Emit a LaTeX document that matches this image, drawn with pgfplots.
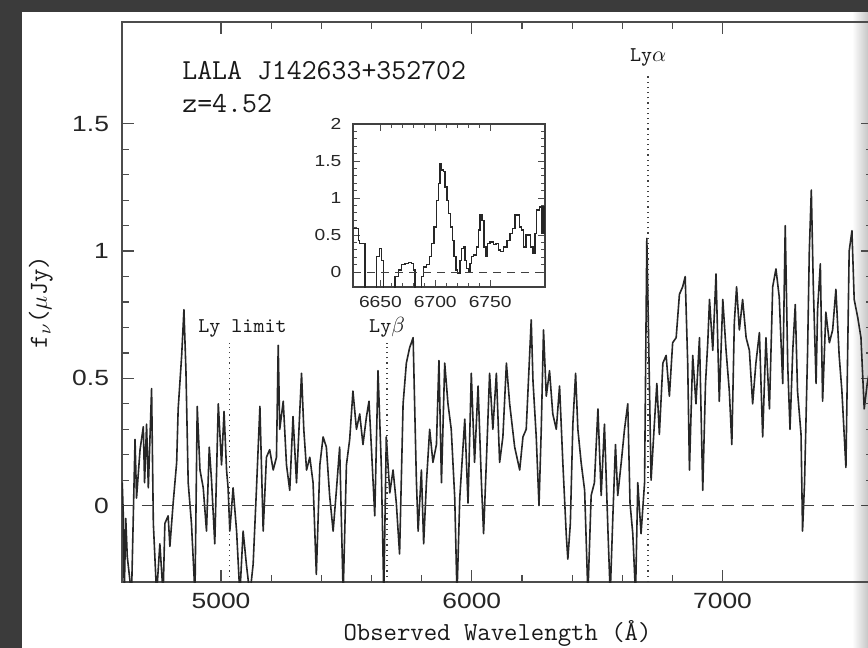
\documentclass[border=0pt]{standalone}
\usepackage{fontspec}
\usepackage{pgfplots}
\usepackage{pgfplotstable}
\pgfplotsset{compat=1.18}
\newfontfamily\tickfont[FakeStretch=1.2]{Liberation Sans}

\pgfplotstableread{
lam flux
4606 0.09
4610 -0.03
4614 -0.35
4620 -0.05
4626 -0.20
4643 -0.35
4657 0.26
4663 0.03
4677 0.22
4690 0.31
4695 0.09
4703 0.32
4710 0.07
4723 0.46
4730 -0.07
4743 -0.35
4756 -0.15
4769 -0.35
4776 -0.07
4789 -0.04
4796 -0.16
4809 0.01
4823 0.17
4829 0.38
4843 0.59
4852 0.77
4860 0.53
4869 0.09
4882 -0.07
4896 -0.35
4905 0.39
4916 0.14
4929 0.07
4942 -0.10
4953 0.23
4962 0.10
4975 -0.15
4989 0.40
5002 0.16
5012 0.37
5022 0.14
5028 0.07
5035 -0.10
5048 0.07
5062 -0.10
5075 -0.35
5088 -0.10
5101 -0.23
5115 -0.35
5128 -0.23
5141 0.06
5155 0.39
5168 -0.10
5181 0.19
5194 0.22
5208 0.14
5221 0.19
5228 0.63
5234 0.30
5248 0.41
5261 0.16
5274 0.06
5287 0.35
5301 0.09
5321 0.52
5330 0.30
5341 0.14
5354 0.19
5367 0.09
5380 -0.27
5394 0.16
5407 0.27
5420 0.23
5433 0.04
5447 -0.10
5460 0.06
5473 0.23
5487 -0.35
5500 0.16
5513 0.26
5526 0.45
5540 0.30
5553 0.36
5566 0.24
5580 0.35
5590 0.41
5599 0.24
5613 -0.04
5626 0.53
5639 0.16
5649 -0.35
5659 0.27
5673 0.05
5686 0.14
5699 0.01
5712 -0.19
5726 0.40
5739 0.56
5752 0.62
5766 0.66
5772 0.40
5779 0.10
5786 -0.10
5799 0.14
5808 -0.15
5819 0.09
5832 0.30
5845 0.17
5859 0.24
5869 0.57
5879 0.09
5892 0.56
5905 0.40
5918 0.30
5932 0.03
5941 -0.35
5952 0.03
5972 0.34
5985 0.01
5998 0.52
6011 0.17
6025 0.47
6038 0.10
6047 -0.11
6058 0.17
6071 0.52
6084 0.30
6098 0.52
6111 0.17
6124 0.27
6138 0.56
6151 0.40
6171 0.23
6191 0.14
6204 0.27
6217 0.30
6231 0.60
6237 0.73
6244 0.49
6257 0.27
6268 0.00
6277 0.30
6286 0.69
6297 0.43
6310 0.53
6323 0.36
6337 0.30
6350 0.47
6363 0.17
6377 -0.12
6383 -0.21
6393 -0.07
6403 0.32
6414 0.52
6423 0.30
6436 0.17
6450 0.06
6463 -0.35
6476 0.04
6489 0.09
6503 0.38
6516 0.04
6529 0.32
6543 -0.10
6552 -0.35
6563 -0.03
6573 0.24
6582 0.04
6596 0.17
6609 0.30
6622 0.40
6631 0.01
6642 -0.11
6653 -0.35
6662 0.09
6675 -0.11
6689 0.09
6698 1.05
6706 0.61
6715 0.10
6728 0.32
6738 0.48
6748 0.28
6762 0.56
6775 0.59
6788 0.43
6801 0.64
6815 0.66
6828 0.83
6841 0.86
6851 0.90
6861 0.56
6868 0.14
6881 0.59
6894 0.40
6908 0.66
6921 0.06
6932 0.48
6941 0.64
6948 0.81
6961 0.61
6974 0.91
6987 0.41
7001 0.81
7014 0.61
7027 0.45
7037 0.24
7047 0.72
7056 0.86
7067 0.69
7080 0.81
7094 0.66
7107 0.61
7120 0.40
7133 0.56
7147 0.68
7160 0.27
7173 0.66
7187 0.38
7200 0.86
7213 0.93
7226 0.82
7240 0.48
7250 1.10
7260 0.55
7269 0.30
7280 0.61
7290 0.79
7299 0.45
7313 0.28
7319 -0.10
7327 0.09
7339 0.60
7346 1.00
7354 1.24
7362 0.86
7373 0.48
7379 0.77
7390 0.95
7399 0.41
7412 0.76
7426 0.64
7439 0.69
7452 0.85
7465 0.59
7476 0.45
7492 0.15
7505 1.00
7516 1.08
7525 0.81
7539 0.74
7552 0.66
7565 0.38
7577 0.48
7600 0.60
}\spectrum

\pgfplotstableread{
lam flux
6625.4 0.59
6629.9 0.43
6630.8 0.39
6633.9 0.39
6636.0 -0.25
6645.1 -0.25
6646.6 0.21
6649.1 0.32
6651.2 0.16
6652.7 -0.25
6663.3 -0.06
6666.4 0.03
6669.4 0.10
6672.5 0.12
6675.5 0.13
6678.5 0.12
6680.1 0.03
6681.6 -0.25
6687.7 -0.06
6689.2 0.07
6692.2 0.10
6694.7 0.21
6696.8 0.39
6698.9 0.61
6701.3 0.97
6702.9 1.20
6704.4 1.47
6705.9 1.38
6707.4 1.36
6708.9 1.15
6710.5 0.97
6712.0 0.79
6714.1 0.61
6715.9 0.43
6717.1 0.21
6718.7 0.03
6720.5 -0.02
6722.6 0.16
6724.1 0.32
6725.7 0.34
6727.2 0.16
6728.7 0.05
6730.2 0.01
6731.7 0.12
6733.2 0.21
6734.8 0.23
6737.8 0.34
6739.3 0.57
6740.9 0.77
6742.4 0.70
6744.5 0.34
6746.3 0.21
6747.5 0.39
6750.0 0.41
6753.0 0.37
6755.4 0.39
6757.6 0.30
6759.7 0.28
6762.1 0.34
6765.2 0.43
6768.2 0.52
6770.6 0.59
6772.8 0.77
6774.9 0.77
6776.7 0.61
6778.8 0.57
6780.3 0.34
6782.8 0.50
6784.9 0.50
6787.0 0.34
6788.9 0.25
6791.0 0.52
6792.5 0.84
6795.0 0.88
6797.1 0.52
6799.2 0.88
6800.0 0.88
}\inset

\begin{document}
\begin{tikzpicture}
\fill[black!77] (0pt,0pt) rectangle (434pt,-324pt);
\fill[white] (11pt,-6pt) rectangle (434pt,-324pt);
\shade[left color=white,right color=black!22] (426pt,-6pt) rectangle (434pt,-324pt);
\useasboundingbox (0pt,0pt) rectangle (434pt,-324pt);
\clip (0pt,0pt) rectangle (434pt,-324pt);

\begin{axis}[
  at={(61pt,-291pt)}, anchor=south west,
  width=375.5pt, height=280pt, scale only axis,
  xmin=4605, xmax=7600, ymin=-0.3, ymax=1.9,
  xtick={5000,6000,7000}, ytick={0,0.5,1,1.5},
  minor x tick num=4, minor y tick num=4,
  tick align=inside,
  major tick length=6pt, minor tick length=3.5pt,
  axis line style={black!70, line width=0.8pt},
  every tick/.style={black!70, line width=0.6pt},
  /pgf/number format/assume math mode=true,
  /pgf/number format/1000 sep={},
  tick label style={font=\tickfont\fontsize{11}{13}\selectfont, text=black!85},
  xticklabel style={yshift=-2pt},
  yticklabel style={xshift=-3pt},
  xlabel={Observed Wavelength (Å)},
  xlabel style={at={(axis description cs:0.5,-0.1036)}, anchor=base,
    font=\ttfamily\fontsize{13}{15}\selectfont, text=black!90},
  ylabel={f$_\nu$(\rmfamily$\mu$\ttfamily Jy)},
  ylabel style={at={(axis description cs:-0.108,0.5)}, anchor=center,
    font=\ttfamily\fontsize{13}{15}\selectfont, text=black!90},
]
\addplot[black!85, line width=0.8pt, mark=none, line join=round] table[x=lam, y=flux] {\spectrum};
\addplot[black!75, line width=0.7pt, dash pattern=on 6pt off 4pt, mark=none] coordinates {(4605,0) (7600,0)};
\draw[black!75, line width=0.6pt, dotted] (axis cs:5034,-0.3) -- (axis cs:5034,0.64);
\draw[black!75, line width=0.6pt, dotted] (axis cs:5662,-0.3) -- (axis cs:5662,0.64);
\draw[black!75, line width=0.6pt, dotted] (axis cs:6703,-0.3) -- (axis cs:6703,1.70);
\node[anchor=base west, inner sep=0, text=black!90, font=\ttfamily\fontsize{14.5}{16}\selectfont] at (axis cs:4844,1.676) {LALA J142633+352702};
\node[anchor=base west, inner sep=0, text=black!90, font=\ttfamily\fontsize{14.5}{16}\selectfont] at (axis cs:4844,1.546) {z=4.52};
\node[anchor=base west, inner sep=0, text=black!90, font=\ttfamily\fontsize{10.5}{12}\selectfont] at (axis cs:4908,0.682) {Ly limit};
\node[anchor=base, inner sep=0, text=black!90, font=\ttfamily\fontsize{10.5}{12}\selectfont] at (axis cs:5662,0.682) {Ly$\beta$};
\node[anchor=base, inner sep=0, text=black!90, font=\ttfamily\fontsize{10.5}{12}\selectfont] at (axis cs:6703,1.743) {Ly$\alpha$};
\end{axis}

\begin{axis}[
  at={(176.5pt,-143.5pt)}, anchor=south west,
  width=96pt, height=81.5pt, scale only axis,
  axis background/.style={fill=white},
  xmin=6625, xmax=6800, ymin=-0.2, ymax=2,
  xtick={6650,6700,6750}, ytick={0,0.5,1,1.5,2},
  minor x tick num=4, minor y tick num=4,
  tick align=inside,
  major tick length=3.5pt, minor tick length=2pt,
  axis line style={black!75, line width=0.8pt},
  every tick/.style={black!70, line width=0.5pt},
  /pgf/number format/assume math mode=true,
  /pgf/number format/1000 sep={},
  tick label style={font=\tickfont\fontsize{8}{10}\selectfont, text=black!85},
  xticklabel style={yshift=-1.3pt},
  yticklabel style={xshift=-2.3pt},
]
\addplot[black!85, line width=0.7pt, const plot, mark=none] table[x=lam, y=flux] {\inset};
\addplot[black!75, line width=0.6pt, dash pattern=on 4pt off 3pt, mark=none] coordinates {(6625,0) (6800,0)};
\end{axis}
\end{tikzpicture}
\end{document}
